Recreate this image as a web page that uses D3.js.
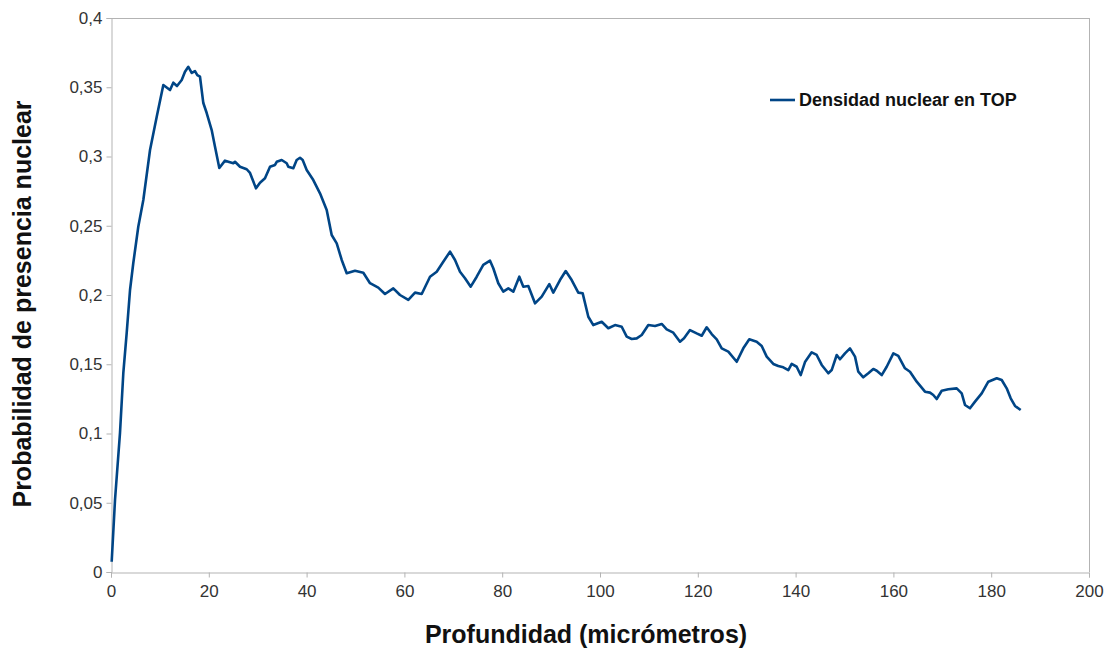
<!DOCTYPE html>
<html><head><meta charset="utf-8">
<script src="https://cdn.jsdelivr.net/npm/d3@7"></script>
<style>
html,body{margin:0;padding:0;background:#fff;}
text{font-family:"Liberation Sans",Arial,sans-serif;}
</style></head>
<body><svg id="c" width="1110" height="648"></svg>
<script>
const depth = [0.14,0.82,1.84,2.52,3.21,3.89,4.56,5.58,6.61,7.98,9.35,10.70,12.07,12.74,13.50,14.46,15.13,15.81,16.50,17.18,17.65,18.20,18.88,19.57,20.59,21.27,22.15,23.31,25.01,25.36,26.38,27.75,28.43,29.65,30.47,31.49,32.52,33.54,33.89,34.91,35.93,36.26,37.28,37.97,38.65,39.20,40.02,41.37,42.74,44.11,45.13,46.16,47.18,48.20,49.90,51.60,52.97,54.66,56.03,57.73,59.10,60.80,62.17,63.54,65.24,66.61,67.95,69.33,70.35,71.37,72.39,73.56,74.79,76.13,77.51,78.18,79.20,80.22,81.25,82.27,83.50,84.32,85.34,86.71,88.08,89.63,90.45,91.82,92.99,94.21,95.56,96.46,97.61,98.63,100.35,101.70,103.07,104.44,105.46,106.48,107.51,108.53,109.88,111.25,112.62,113.64,114.99,116.36,117.18,118.40,119.77,120.80,121.82,122.84,123.87,124.89,126.24,127.96,129.30,130.53,132.04,133.07,134.09,135.44,136.46,137.48,138.51,139.20,140.22,141.04,141.92,143.29,144.31,145.34,146.69,147.38,148.41,149.08,150.10,151.12,152.15,152.82,153.84,154.87,155.89,156.59,157.61,158.63,159.99,161.00,162.37,163.39,164.77,166.46,167.48,168.16,168.85,169.88,171.23,172.95,173.97,174.64,175.66,176.69,178.06,179.41,181.13,182.15,183.17,183.99,184.87,186.03];
const density = [0.0074,0.052,0.1004,0.1437,0.1726,0.2036,0.2231,0.2493,0.2686,0.3047,0.3287,0.3516,0.348,0.3533,0.3509,0.3552,0.3612,0.3648,0.3603,0.3617,0.3588,0.3576,0.3386,0.3314,0.3191,0.3071,0.2917,0.2970,0.2951,0.2962,0.2926,0.2908,0.2881,0.2770,0.2811,0.2843,0.2926,0.2939,0.2962,0.2975,0.2951,0.2926,0.2915,0.2975,0.2991,0.2975,0.2903,0.2830,0.2734,0.2614,0.2433,0.2373,0.2253,0.2157,0.2175,0.2161,0.2085,0.2053,0.2007,0.2048,0.2000,0.1964,0.2017,0.2007,0.2132,0.2168,0.2240,0.2313,0.2253,0.2168,0.2121,0.2060,0.2132,0.2217,0.2248,0.2193,0.2085,0.2024,0.2048,0.2024,0.2132,0.2060,0.2065,0.1940,0.1988,0.2079,0.2017,0.2108,0.2173,0.2108,0.2017,0.2012,0.1843,0.1783,0.1807,0.1760,0.1783,0.1771,0.1699,0.1682,0.1687,0.1711,0.1783,0.1776,0.1791,0.1752,0.1728,0.1663,0.1687,0.1747,0.1723,0.1706,0.1767,0.1718,0.1680,0.1615,0.1591,0.1518,0.1615,0.1680,0.1663,0.1632,0.1555,0.1502,0.1487,0.1478,0.1458,0.1502,0.1482,0.1422,0.1516,0.1586,0.1567,0.1495,0.1435,0.1458,0.1567,0.1536,0.1579,0.1615,0.1555,0.1446,0.1406,0.1435,0.1466,0.1453,0.1422,0.1482,0.1579,0.1560,0.1471,0.1446,0.1374,0.1302,0.1295,0.1278,0.1249,0.1309,0.1319,0.1326,0.1290,0.1206,0.1182,0.1230,0.1290,0.1374,0.1399,0.1386,0.1326,0.1254,0.1199,0.1170];
const xTicks = [0,20,40,60,80,100,120,140,160,180,200];
const yTicks = [0,0.05,0.1,0.15,0.2,0.25,0.3,0.35,0.4];
const seriesName = "Densidad nuclear en TOP";
const xTitle = "Profundidad (micrómetros)";
const yTitle = "Probabilidad de presencia nuclear";

const svg = d3.select("#c");
const L=111, R=1089, T=18, B=572;
const x = d3.scaleLinear().domain([0,200]).range([L,R]);
const y = d3.scaleLinear().domain([0,0.4]).range([B,T]);
const fmt = v => String(+v.toFixed(2)).replace(".", ",");
const axisCol = "#b3b3b3";

svg.append("line").attr("x1",L).attr("x2",R).attr("y1",T+0.5).attr("y2",T+0.5).attr("stroke",axisCol);
svg.append("line").attr("x1",R+0.5).attr("x2",R+0.5).attr("y1",T).attr("y2",B).attr("stroke",axisCol);

const xa = svg.append("g").attr("transform",`translate(0,${B+0.5})`)
  .call(d3.axisBottom(x).tickValues(xTicks).tickSize(5).tickPadding(7).tickFormat(fmt));
const ya = svg.append("g").attr("transform",`translate(${L+0.5},0)`)
  .call(d3.axisLeft(y).tickValues(yTicks).tickSize(5).tickPadding(4).tickFormat(fmt));
[xa,ya].forEach(g=>{
  g.selectAll("path,line").attr("stroke",axisCol);
  g.selectAll("text").attr("fill","#333").style("font-size","17px").style("font-family","'Liberation Sans',Arial,sans-serif");
});

const line = d3.line().x((d,i)=>x(depth[i])).y(d=>y(d));
svg.append("path").datum(density).attr("d",line).attr("fill","none")
  .attr("stroke","#004586").attr("stroke-width",2.6).attr("stroke-linejoin","round");

svg.append("line").attr("x1",770).attr("x2",795).attr("y1",100).attr("y2",100).attr("stroke","#004586").attr("stroke-width",2.6);
svg.append("text").attr("x",799).attr("y",106).text(seriesName).style("font-size","18px").style("font-weight","bold").attr("fill","#111");

svg.append("text").attr("x",586).attr("y",643).attr("text-anchor","middle").text(xTitle)
  .style("font-size","25px").style("font-weight","bold").attr("fill","#111");
svg.append("text").attr("transform","translate(31,304) rotate(-90)").attr("text-anchor","middle").text(yTitle)
  .style("font-size","25px").style("font-weight","bold").attr("fill","#111");
</script></body></html>
